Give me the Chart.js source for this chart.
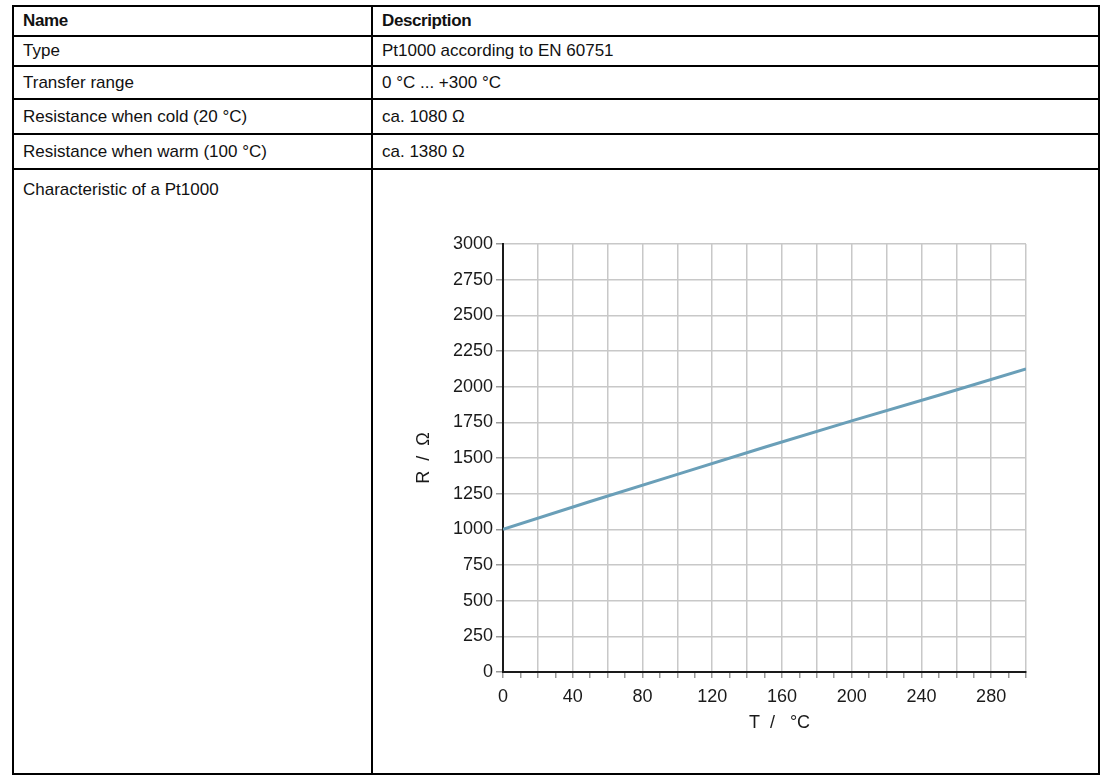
<!DOCTYPE html>
<html>
<head>
<meta charset="utf-8">
<script src="https://cdn.jsdelivr.net/npm/chart.js@4/dist/chart.umd.min.js"></script>
<style>
  html, body { margin: 0; padding: 0; background: #fff; }
  body { width: 1111px; height: 778px; position: relative; overflow: hidden;
         font-family: 'Liberation Sans', Arial, sans-serif; color: #111; }
  table { position: absolute; left: 12px; top: 5px; border-collapse: collapse; }
  td { border: 2px solid #000; padding: 0 0 0 9px; font-size: 17px; vertical-align: middle; }
  td.c1 { width: 348px; }
  td.c2 { width: 716px; }
  tr.head td { font-weight: bold; letter-spacing: -0.4px; }
  tr.last td { vertical-align: top; padding-top: 10px; }
  #wrap { position: absolute; left: 411px; top: 224px; width: 639px; height: 512px; }
</style>
</head>
<body>
<table id="tabla"></table>
<div id="wrap"><canvas id="grafico"></canvas></div>
<script>
// ─── Datos ────────────────────────────────────────
const encabezado   = ['Name', 'Description'];
const filas        = [
  ['Type', 'Pt1000 according to EN 60751'],
  ['Transfer range', '0 °C ... +300 °C'],
  ['Resistance when cold (20 °C)', 'ca. 1080 Ω'],
  ['Resistance when warm (100 °C)', 'ca. 1380 Ω'],
  ['Characteristic of a Pt1000', '']
];
const altoFilas    = [30, 30, 33, 35, 35, 605];

const temperaturas = [0, 50, 100, 150, 200, 250, 300];
const resistencias = [1000, 1195, 1385, 1575, 1760, 1940, 2125];
const etiquetasX   = [0, 40, 80, 120, 160, 200, 240, 280];

// ─── Tabla ────────────────────────────────────────
const tabla = document.getElementById('tabla');
[encabezado, ...filas].forEach((fila, i) => {
  const tr = document.createElement('tr');
  if (i === 0) tr.className = 'head';
  if (i === filas.length) tr.className = 'last';
  tr.style.height = altoFilas[i] + 'px';
  tr.innerHTML = `<td class="c1">${fila[0]}</td><td class="c2">${fila[1]}</td>`;
  tabla.appendChild(tr);
});

// ─── Gráfico ──────────────────────────────────────
const colorLinea = '#6a9fb8';
const colorGrid  = '#c8c8c8';
const colorEje   = '#1a1a1a';
const fuente     = { family: "'Liberation Sans', Arial, sans-serif", size: 18 };

new Chart(document.getElementById('grafico'), {
  type: 'line',
  data: {
    datasets: [{
      data: temperaturas.map((t, i) => ({ x: t, y: resistencias[i] })),
      borderColor: colorLinea,
      borderWidth: 3,
      pointRadius: 0,
      tension: 0
    }]
  },
  options: {
    responsive: true,
    maintainAspectRatio: false,
    animation: false,
    layout: { padding: { top: 20, right: 24, left: 0, bottom: 0 } },
    plugins: { legend: { display: false }, tooltip: { enabled: false } },
    scales: {
      x: {
        type: 'linear',
        min: 0, max: 300,
        afterFit: s => { s.height = 64; },
        border: { color: colorEje, width: 2 },
        grid: {
          color: c => c.tick && c.tick.value % 20 === 0 ? colorGrid : 'rgba(0,0,0,0)',
          tickColor: '#999',
          tickLength: 6,
          lineWidth: 1.5
        },
        ticks: {
          stepSize: 10,
          autoSkip: false,
          maxRotation: 0,
          color: colorEje,
          font: fuente,
          padding: 8,
          callback: v => etiquetasX.includes(v) ? String(v) : ''
        },
        // espacios delante para correr el título un poco a la derecha, como en el original
        title: { display: true, text: '      T  /   °C', color: colorEje, font: fuente, padding: { top: 2, bottom: 2 } }
      },
      y: {
        min: 0, max: 3000,
        afterFit: s => { s.width = 92; },
        border: { color: colorEje, width: 2 },
        grid: { color: colorGrid, tickColor: '#999', tickLength: 7, lineWidth: 1.5 },
        ticks: { stepSize: 250, color: colorEje, font: fuente, padding: 3, callback: v => String(v) },
        title: { display: true, text: 'R  /  Ω', color: colorEje, font: fuente, padding: { top: 2, bottom: 2 } }
      }
    }
  }
});
</script>
</body>
</html>
